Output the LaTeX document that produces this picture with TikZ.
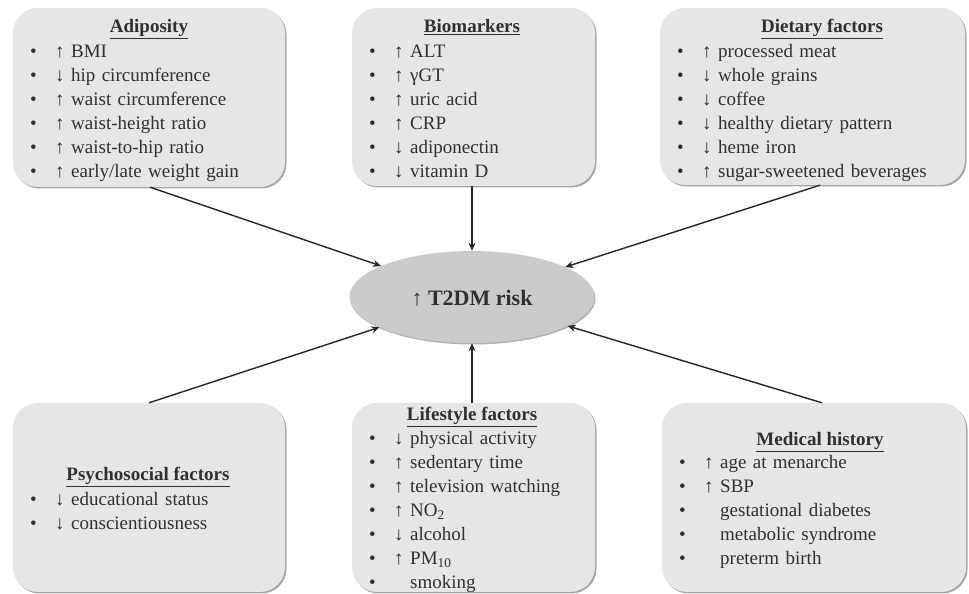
\documentclass[tikz,border=0pt]{standalone}
\usepackage{fontspec}
\setmainfont{Liberation Serif}
\usetikzlibrary{shadows,arrows.meta,shapes.geometric}
\definecolor{boxgray}{HTML}{E6E6E6}
\definecolor{ellgray}{HTML}{CBCBCB}
\definecolor{txt}{HTML}{303030}
\newcommand{\itm}[2]{\makebox[25pt][l]{•}\makebox[16pt][l]{#1}#2}
\tikzset{
  factor/.style={rectangle, rounded corners=25pt, fill=boxgray, draw=none,
    drop shadow={shadow xshift=1.5pt, shadow yshift=-1.5pt, fill=black, opacity=0.35},
    inner sep=0pt},
  lst/.style={anchor=base west, inner sep=0pt, text width=280pt, align=left,
    font=\fontsize{19}{24}\selectfont, text=txt},
  ttl/.style={anchor=base, inner sep=0pt, font=\fontsize{19}{24}\selectfont\bfseries, text=txt},
  conn/.style={line width=1.4pt, draw=black!85, -{Stealth[length=8pt,width=7pt]}}
}
\begin{document}
\begin{tikzpicture}[x=1pt,y=1pt]
\useasboundingbox (0,0) rectangle (969,594);
\fill[white] (0,0) rectangle (969,594);
% boxes
\node[factor, minimum width=272pt, minimum height=179pt] (adi) at (149,496.5) {};
\node[factor, minimum width=243pt, minimum height=178pt] (bio) at (473.5,497) {};
\node[factor, minimum width=305pt, minimum height=177pt] (diet) at (812.5,497.5) {};
\node[factor, minimum width=272pt, minimum height=189pt] (psy) at (149,96.5) {};
\node[factor, minimum width=243pt, minimum height=189pt] (life) at (473.5,96.5) {};
\node[factor, minimum width=304pt, minimum height=189pt] (med) at (814,96.5) {};
% centre
\node[ellipse, fill=ellgray, minimum width=245pt, minimum height=92pt, inner sep=0pt,
  drop shadow={shadow xshift=1pt, shadow yshift=-1.5pt, fill=black, opacity=0.3}] (risk) at (472,297) {};
\node[anchor=center, inner sep=0pt, font=\fontsize{22}{26}\selectfont, text=txt] (risklbl) at (472,296) {↑ \textbf{T2DM risk}};
% titles
\node[ttl] (adiT) at (149,561) {\underline{Adiposity}};
\node[ttl] (bioT) at (472,561) {\underline{Biomarkers}};
\node[ttl] (dietT) at (822,561) {\underline{Dietary factors}};
\node[ttl] (psyT) at (148,113) {\underline{Psychosocial factors}};
\node[ttl] (lifeT) at (472,173) {\underline{Lifestyle factors}};
\node[ttl] (medT) at (820,148) {\underline{Medical history}};
% lists
\node[lst] (adiL) at (30,536) {\itm{↑}{BMI}\\ \itm{↓}{hip circumference}\\ \itm{↑}{waist circumference}\\ \itm{↑}{waist-height ratio}\\ \itm{↑}{waist-to-hip ratio}\\ \itm{↑}{early/late weight gain}};
\node[lst] (bioL) at (369,536) {\itm{↑}{ALT}\\ \itm{↑}{γGT}\\ \itm{↑}{uric acid}\\ \itm{↑}{CRP}\\ \itm{↓}{adiponectin}\\ \itm{↓}{vitamin D}};
\node[lst] (dietL) at (677,536) {\itm{↑}{processed meat}\\ \itm{↓}{whole grains}\\ \itm{↓}{coffee}\\ \itm{↓}{healthy dietary pattern}\\ \itm{↓}{heme iron}\\ \itm{↑}{sugar-sweetened beverages}};
\node[lst] (psyL) at (30,88) {\itm{↓}{educational status}\\ \itm{↓}{conscientiousness}};
\node[lst] (lifeL) at (369,149) {\itm{↓}{physical activity}\\ \itm{↑}{sedentary time}\\ \itm{↑}{television watching}\\ \itm{↑}{NO\textsubscript{2}}\\ \itm{↓}{alcohol}\\ \itm{↑}{PM\textsubscript{10}}\\ \itm{}{smoking}};
\node[lst] (medL) at (679,125) {\itm{↑}{age at menarche}\\ \itm{↑}{SBP}\\ \itm{}{gestational diabetes}\\ \itm{}{metabolic syndrome}\\ \itm{}{preterm birth}};
% connectors
\draw[conn] ([xshift=1pt]adi.south) -- (risk);
\draw[conn] ([xshift=-1.5pt]bio.south) -- (risk.north);
\draw[conn] ([xshift=7.5pt]diet.south) -- (risk);
\draw[conn] (psy.north) -- (risk);
\draw[conn] ([xshift=-1.5pt]life.north) -- (risk.south);
\draw[conn] ([xshift=8pt]med.north) -- (risk);
\end{tikzpicture}
\end{document}
